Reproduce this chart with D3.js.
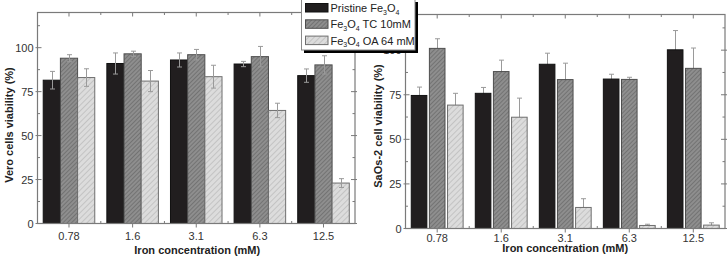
<!DOCTYPE html>
<html>
<head>
<meta charset="utf-8">
<script src="https://cdn.jsdelivr.net/npm/d3@7"></script>
<style>
  body { margin: 0; background: #fff; }
  svg { display: block; font-family: "Liberation Sans", Arial, sans-serif; }
</style>
</head>
<body>
<svg id="chart" width="727" height="258"></svg>
<script>
// chart data
const concentrations = ['0.78', '1.6', '3.1', '6.3', '12.5'];
const seriesKeys = ['pristine', 'tc', 'oa'];
const yTicks = [0, 25, 50, 75, 100];
const yMinorTicks = [12.5, 37.5, 62.5, 87.5, 112.5];

const veroPristine = [81.5, 91, 93, 90.7, 84.1];
const veroPristineErr = [5, 6, 4, 1.5, 3.8];
const veroTC = [94, 96.5, 96, 94.9, 90.2];
const veroTCErr = [2, 1.5, 3, 5.8, 5.2];
const veroOA = [83, 81, 83.5, 64.3, 23];
const veroOAErr = [5, 6, 6.5, 4.1, 2.5];

const saosPristine = [74.6, 75.8, 92.1, 83.8, 100.2];
const saosPristineErr = [4.7, 3.3, 6.2, 2.7, 10.8];
const saosTC = [101, 88, 83.5, 83.6, 89.8];
const saosTCErr = [5.4, 6.4, 9.2, 1.2, 11.4];
const saosOA = [69.2, 62.4, 11.8, 1.7, 1.9];
const saosOAErr = [6.6, 10.7, 4.9, 0.7, 1.3];

const svg = d3.select('#chart');

// hatch patterns
const defs = svg.append('defs');
function hatch(id, bg, line, gap, lw) {
  const p = defs.append('pattern')
    .attr('id', id)
    .attr('patternUnits', 'userSpaceOnUse')
    .attr('width', gap).attr('height', gap)
    .attr('patternTransform', 'rotate(45)');
  p.append('rect').attr('width', gap).attr('height', gap).attr('fill', bg);
  p.append('line').attr('x1', 0).attr('y1', 0).attr('x2', 0).attr('y2', gap)
    .attr('stroke', line).attr('stroke-width', lw);
}
hatch('hatchTC', '#8e8e8e', '#5c5c5c', 3, 1.1);
hatch('hatchOA', '#dcdcdc', '#a4a4a4', 4, 0.9);

const fills = { pristine: '#211e1f', tc: 'url(#hatchTC)', oa: 'url(#hatchOA)' };
const strokes = { pristine: '#111', tc: '#4e4e4e', oa: '#6e6e6e' };

function drawPanel(opt) {
  const g = svg.append('g');
  const { x0, x1, yTop, yBottom } = opt;

  const x = d3.scaleBand().domain(concentrations)
    .range([x0, x1]).paddingInner(0.19).paddingOuter(0.09);
  const xs = d3.scaleBand().domain(seriesKeys)
    .range([0, x.bandwidth()]).paddingInner(opt.barGap);
  const y = d3.scaleLinear().domain([0, 120]).range([yBottom, yTop]);

  const rows = concentrations.map((c, i) => ({
    c,
    vals: seriesKeys.map((k, j) => ({ k, v: opt.values[j][i], e: opt.errors[j][i] }))
  }));

  function errorBars() {
    const eb = g.append('g').attr('stroke', '#9a9a9a').attr('stroke-width', 1);
    rows.forEach(r => r.vals.forEach(d => {
      const cx = Math.round(x(r.c) + xs(d.k) + xs.bandwidth() / 2) + 0.5;
      const lo = y(d.v - d.e), hi = y(d.v + d.e);
      eb.append('line').attr('x1', cx).attr('x2', cx).attr('y1', lo).attr('y2', hi);
      eb.append('line').attr('x1', cx - 2.5).attr('x2', cx + 2.5).attr('y1', hi).attr('y2', hi);
      eb.append('line').attr('x1', cx - 2.5).attr('x2', cx + 2.5).attr('y1', lo).attr('y2', lo);
    }));
  }

  if (!opt.errorsOnTop) errorBars();

  g.selectAll('g.grp').data(rows).join('g')
    .attr('transform', d => `translate(${x(d.c)},0)`)
    .selectAll('rect').data(d => d.vals).join('rect')
    .attr('x', d => xs(d.k))
    .attr('y', d => y(d.v))
    .attr('width', xs.bandwidth())
    .attr('height', d => y(0) - y(d.v))
    .attr('fill', d => fills[d.k])
    .attr('stroke', d => strokes[d.k])
    .attr('stroke-width', 1);

  if (opt.errorsOnTop) errorBars();

  // frame
  g.append('rect')
    .attr('x', x0).attr('y', yTop)
    .attr('width', x1 - x0).attr('height', yBottom - yTop)
    .attr('fill', 'none').attr('stroke', '#7a7a7a').attr('stroke-width', 1.2);

  // ticks (inward on all four sides)
  const tk = g.append('g').attr('stroke', '#7a7a7a').attr('stroke-width', 1);
  const centers = concentrations.map(c => x(c) + x.bandwidth() / 2);
  const step = x.step();
  const xMinor = centers.slice(0, -1).map(c => c + step / 2);
  centers.forEach(cx => {
    tk.append('line').attr('x1', cx).attr('x2', cx).attr('y1', yBottom).attr('y2', yBottom + 4);
    tk.append('line').attr('x1', cx).attr('x2', cx).attr('y1', yTop).attr('y2', yTop + 4);
  });
  xMinor.forEach(cx => {
    tk.append('line').attr('x1', cx).attr('x2', cx).attr('y1', yBottom).attr('y2', yBottom - 2.5);
    tk.append('line').attr('x1', cx).attr('x2', cx).attr('y1', yTop).attr('y2', yTop + 2.5);
  });
  yTicks.forEach(v => {
    tk.append('line').attr('x1', x0 - 2).attr('x2', x0 + 4).attr('y1', y(v)).attr('y2', y(v));
    tk.append('line').attr('x1', x1 + 2).attr('x2', x1 - 4).attr('y1', y(v)).attr('y2', y(v));
  });
  yMinorTicks.forEach(v => {
    tk.append('line').attr('x1', x0).attr('x2', x0 + 2.5).attr('y1', y(v)).attr('y2', y(v));
    tk.append('line').attr('x1', x1).attr('x2', x1 - 2.5).attr('y1', y(v)).attr('y2', y(v));
  });

  // tick labels
  g.selectAll('text.xl').data(concentrations).join('text')
    .attr('x', c => x(c) + x.bandwidth() / 2)
    .attr('y', yBottom + opt.xLabelOffset)
    .attr('text-anchor', 'middle')
    .attr('font-size', 11).attr('fill', '#333')
    .text(c => c);
  g.selectAll('text.yl').data(yTicks).join('text')
    .attr('x', x0 - 4)
    .attr('y', v => y(v) + 4)
    .attr('text-anchor', 'end')
    .attr('font-size', 11).attr('fill', '#333')
    .text(v => v);

  // axis titles
  g.append('text')
    .attr('x', (x0 + x1) / 2 + opt.xTitleShift)
    .attr('y', opt.xTitleY)
    .attr('text-anchor', 'middle')
    .attr('font-size', 11).attr('font-weight', 'bold').attr('fill', '#222')
    .text('Iron concentration (mM)');
  g.append('text')
    .attr('transform', `translate(${opt.yTitleX},${opt.yTitleY}) rotate(-90)`)
    .attr('text-anchor', 'middle')
    .attr('font-size', 11).attr('font-weight', 'bold').attr('fill', '#222')
    .text(opt.yTitle);
}

drawPanel({
  x0: 37.5, x1: 355, yTop: 12.5, yBottom: 223.5,
  barGap: 0, errorsOnTop: true,
  values: [veroPristine, veroTC, veroOA],
  errors: [veroPristineErr, veroTCErr, veroOAErr],
  xLabelOffset: 16, xTitleY: 254, xTitleShift: 1,
  yTitleX: 13, yTitleY: 125, yTitle: 'Vero cells viability (%)'
});

drawPanel({
  x0: 405.5, x1: 725, yTop: 14.5, yBottom: 228.5,
  barGap: 0.14, errorsOnTop: false,
  values: [saosPristine, saosTC, saosOA],
  errors: [saosPristineErr, saosTCErr, saosOAErr],
  xLabelOffset: 13, xTitleY: 252, xTitleShift: 0,
  yTitleX: 382, yTitleY: 126, yTitle: 'SaOs-2 cell viability (%)'
});

// legend
const legendLabels = [
  [['Pristine Fe', false], ['3', true], ['O', false], ['4', true]],
  [['Fe', false], ['3', true], ['O', false], ['4', true], [' TC 10mM', false]],
  [['Fe', false], ['3', true], ['O', false], ['4', true], [' OA 64 mM', false]]
];
const lg = svg.append('g');
lg.append('rect').attr('x', 304).attr('y', 2).attr('width', 114).attr('height', 51).attr('fill', '#000');
lg.append('rect').attr('x', 301.5).attr('y', -1).attr('width', 113.5).attr('height', 51)
  .attr('fill', '#fff').attr('stroke', '#8a8a8a').attr('stroke-width', 1);
seriesKeys.forEach((k, i) => {
  const yy = 3.5 + i * 16.3;
  lg.append('rect').attr('x', 305.5).attr('y', yy).attr('width', 22.5).attr('height', 8.5)
    .attr('fill', fills[k]).attr('stroke', strokes[k]).attr('stroke-width', 1);
  const t = lg.append('text').attr('x', 330.5).attr('y', yy + 8.5)
    .attr('font-size', 11).attr('fill', '#222');
  legendLabels[i].forEach(([s, sub]) => {
    const ts = t.append('tspan').text(s);
    if (sub) ts.attr('font-size', 7).attr('dy', 2.5);
    else if (t.selectAll('tspan').size() > 1) ts.attr('dy', -2.5);
  });
});
</script>
</body>
</html>
